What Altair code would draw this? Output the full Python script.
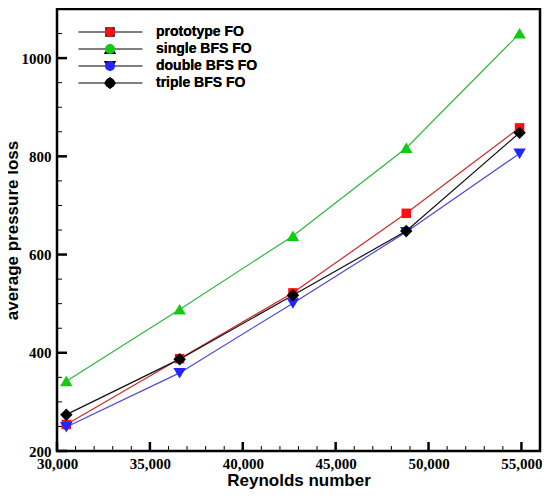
import altair as alt
import pandas as pd

reynolds = [30500, 36600, 42700, 48800, 54900]
series_names = ["prototype FO", "single BFS FO", "double BFS FO", "triple BFS FO"]
prototype = [254, 388, 522, 684, 858]
single = [342, 488, 638, 817, 1050]
double = [249, 359, 501, 646, 806]
triple = [274, 387, 517, 648, 848]

x_major = [30000, 35000, 40000, 45000, 50000, 55000]
y_major = [200, 400, 600, 800, 1000]
x_minor = [v for v in range(31000, 56000, 1000) if v % 5000 != 0]
y_minor = [v for v in range(250, 1100, 50) if v % 200 != 0]

marker_colors = ["#ff1010", "#10cc10", "#2424ff", "#000000"]
line_colors = ["#d02828", "#2cb83c", "#4848d8", "#101010"]

marker_paths = [
    "M-0.95,-0.95H0.95V0.95H-0.95Z",
    "M0,-1.1L1.25,1.0L-1.25,1.0Z",
    "M0,1.1L1.25,-1.0L-1.25,-1.0Z",
    "M0,-1.25L1.25,0L0,1.25L-1.25,0Z",
]
legend_paths = ["M-6.3,-0.12H6.5V0.12H-6.3Z" + p for p in marker_paths]

rows = []
for name, vals in zip(series_names, [prototype, single, double, triple]):
    for re_, v in zip(reynolds, vals):
        rows.append({"Re": re_, "loss": v, "series": name})
df = pd.DataFrame(rows)

W, H = 483, 442
x_scale = alt.Scale(domain=[30000, 56000], nice=False, zero=False)
y_scale = alt.Scale(domain=[200, 1100], nice=False, zero=False)

serif = "'Liberation Serif', 'Times New Roman', Times, serif"
lab = dict(labelFont=serif, labelFontWeight="bold", labelFontSize=15,
           labelColor="black", titleFont="Liberation Sans", titleFontWeight="bold",
           titleFontSize=17, titleColor="black", grid=False, domain=False, ticks=False,
           labelFlush=False, labelOverlap=False)

base = alt.Chart(df)

lines = base.mark_line(strokeWidth=1.2).encode(
    x=alt.X("Re:Q", scale=x_scale,
            axis=alt.Axis(values=x_major, format=",d", labelPadding=5,
                          title="Reynolds number", titlePadding=1, **lab)),
    y=alt.Y("loss:Q", scale=y_scale,
            axis=alt.Axis(values=y_major, format="d", labelPadding=6,
                          title="average pressure loss", titlePadding=0, **lab)),
    color=alt.Color("series:N", scale=alt.Scale(domain=series_names, range=line_colors), legend=None),
    detail="series:N",
)

point_layers = []
for name, col, path in zip(series_names, marker_colors, marker_paths):
    point_layers.append(
        base.transform_filter(alt.datum.series == name)
        .mark_point(filled=True, size=100, opacity=1, shape=path, color=col)
        .encode(x=alt.X("Re:Q", scale=x_scale, axis=None),
                y=alt.Y("loss:Q", scale=y_scale, axis=None))
    )

# inward tick marks along the left and bottom frame, positioned through the scales
def x_ticks(vals, length, width):
    return alt.Chart(pd.DataFrame({"v": vals})).mark_rule(color="black", strokeWidth=width).encode(
        x=alt.X("v:Q", scale=x_scale, axis=None),
        y=alt.value(H), y2=alt.value(H - length))

def y_ticks(vals, length, width):
    return alt.Chart(pd.DataFrame({"v": vals})).mark_rule(color="black", strokeWidth=width).encode(
        y=alt.Y("v:Q", scale=y_scale, axis=None),
        x=alt.value(0), x2=alt.value(length))

tick_layers = [x_ticks(x_major, 9, 2.5), x_ticks(x_minor, 5, 1),
               y_ticks(y_major, 10, 2.5), y_ticks(y_minor, 5, 1)]

legend_cfg = dict(orient="none", legendX=46, legendY=16, padding=0, title=None,
                  labelFont="Liberation Sans", labelFontWeight="bold", labelFontSize=14,
                  labelColor="black", labelOffset=39, rowPadding=3, symbolOpacity=1,
                  symbolStrokeWidth=0, symbolStrokeColor="transparent")

legend_layer = base.mark_point(filled=True, size=100, opacity=0).encode(
    x=alt.X("Re:Q", scale=x_scale, axis=None),
    y=alt.Y("loss:Q", scale=y_scale, axis=None),
    color=alt.Color("series:N", scale=alt.Scale(domain=series_names, range=marker_colors),
                    legend=alt.Legend(**legend_cfg)),
    shape=alt.Shape("series:N", scale=alt.Scale(domain=series_names, range=legend_paths),
                    legend=alt.Legend(**legend_cfg)),
)

chart = alt.layer(lines, *point_layers, *tick_layers, legend_layer).resolve_axis(
    x="independent", y="independent"
).resolve_scale(color="independent").properties(
    width=W, height=H,
    autosize=alt.AutoSizeParams(type="none"),
    padding={"left": 49, "top": 1, "right": 2, "bottom": 39},
    background="white",
).configure_view(stroke="black", strokeWidth=2.5)

chart.save("out.html", embed_options={"renderer": "svg", "actions": False})
